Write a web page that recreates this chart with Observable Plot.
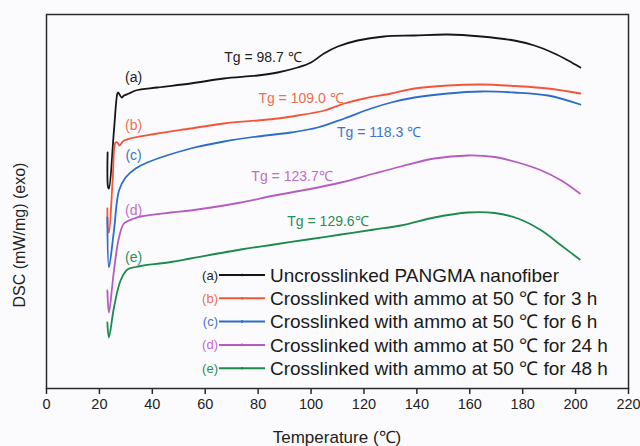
<!DOCTYPE html>
<html><head><meta charset="utf-8">
<script src="https://cdn.jsdelivr.net/npm/d3@7"></script>
<script src="https://cdn.jsdelivr.net/npm/@observablehq/plot@0.6"></script>
<style>
html,body{margin:0;padding:0;background:#fbfbfd;}
#chart{width:640px;height:446px;position:relative;}
</style></head><body><div id="chart"></div>
<script>
const xTicks = [0,20,40,60,80,100,120,140,160,180,200,220];
const seriesKeys = ["(a)","(b)","(c)","(d)","(e)"];
const seriesNames = [
  "Uncrosslinked PANGMA nanofiber",
  "Crosslinked with ammo at 50 \u2103 for 3 h",
  "Crosslinked with ammo at 50 \u2103 for 6 h",
  "Crosslinked with ammo at 50 \u2103 for 24 h",
  "Crosslinked with ammo at 50 \u2103 for 48 h"
];
const lineColors = ["#161616","#f4553a","#2d6cc9","#b55cc0","#1c8a4c"];
const textColors = ["#222222","#f26c50","#3a76cf","#c26dc9","#2b8c58"];
const tgTexts = ["Tg = 98.7 \u2103","Tg = 109.0 \u2103","Tg = 118.3 \u2103","Tg = 123.7\u2103","Tg = 129.6\u2103"];
// annotation anchor (temperature, DSC) for Tg labels and curve letters
const tgT = [81.8, 96.2, 125.7, 92.8, 106.4];
const tgV = [33.1, 29.0, 25.6, 21.2, 16.7];
const letterT = [32.9, 32.9, 32.9, 32.9, 32.9];
const letterV = [31.1, 26.3, 23.3, 17.8, 13.1];

// Curve (a)
const tA = [23.1,23.3,23.6,25.5,26.8,27.1,28.4,29.3,31.2,33.7,41.9,54.5,67.0,79.8,87.4,94.9,100.0,104.9,110.1,117.6,127.6,139.0,151.7,164.3,176.8,184.4,192.0,197.2,201.8];
const vA = [23.6,20.1,20.0,25.8,29.5,29.6,29.1,29.3,29.5,29.8,30.1,30.5,31.0,31.3,31.6,32.1,32.6,33.5,34.2,34.8,35.2,35.3,35.4,35.2,34.8,34.3,33.5,32.8,32.1];
// Curve (b)
const tB = [23.0,23.3,23.6,25.0,26.1,26.8,27.6,29.3,41.9,54.5,67.1,79.8,87.4,94.9,105.0,112.6,120.1,130.3,139.1,151.7,164.3,176.9,189.6,201.8];
const vB = [18.0,15.8,15.6,20.8,24.6,24.6,24.3,24.8,25.5,26.0,26.5,26.8,27.0,27.3,27.8,28.5,29.0,29.5,30.0,30.3,30.4,30.25,30.0,29.5];
// Curve (c)
const tC = [23.0,23.6,25.5,27.4,29.9,33.7,38.1,54.5,67.1,79.8,92.4,102.5,112.6,122.7,130.3,139.1,151.7,164.3,176.9,189.6,201.8];
const vC = [17.1,12.1,15.8,19.8,21.1,22.0,22.6,24.0,24.7,25.2,25.6,26.1,27.0,28.0,28.6,29.1,29.5,29.7,29.6,29.3,28.4];
// Curve (d)
const tD = [23.0,23.6,25.5,27.4,29.3,33.1,35.6,47.0,54.5,73.5,86.1,98.7,111.3,123.9,134.0,146.6,159.3,169.4,178.2,187.1,194.6,201.6];
const vD = [9.8,7.6,11.8,15.1,16.5,17.0,17.2,17.6,17.8,18.6,19.3,19.9,20.6,21.5,22.2,23.0,23.3,23.15,22.6,21.8,20.8,19.5];
// Curve (e)
const tE = [23.0,23.6,25.5,28.0,30.6,33.7,35.6,47.0,54.5,73.5,86.1,98.7,111.3,123.9,134.0,146.6,159.3,169.4,178.2,187.1,194.6,201.6];
const vE = [6.6,5.1,8.1,10.8,11.9,12.15,12.25,12.65,13.0,13.9,14.4,14.9,15.4,15.9,16.3,17.1,17.6,17.55,17.0,15.8,14.3,12.9];

const temps = [tA,tB,tC,tD,tE];
const vals = [vA,vB,vC,vD,vE];
const data = [];
temps.forEach((ts,i)=>ts.forEach((t,j)=>data.push({key:seriesKeys[i],T:t,v:vals[i][j]})));
const notes = tgTexts.map((s,i)=>({text:s,T:tgT[i],v:tgV[i],color:textColors[i]}));
const letters = seriesKeys.map((s,i)=>({text:s,T:letterT[i],v:letterV[i],color:textColors[i]}));

const font = "'Liberation Sans', Arial, Helvetica, sans-serif";
const chart = Plot.plot({
  width:640, height:446,
  marginTop:14, marginLeft:46, marginRight:12, marginBottom:58,
  style:{background:"transparent", fontFamily:font, color:"#222", overflow:"visible"},
  x:{domain:[0,220]},
  y:{domain:[0,37.4], axis:null},
  color:{domain:seriesKeys, range:lineColors},
  marks:[
    Plot.frame({stroke:"#2a2a2a", strokeWidth:1.5}),
    Plot.axisX({ticks:xTicks, tickSize:6, tickPadding:4, fontSize:14.5, label:null, stroke:"#2a2a2a", strokeWidth:1.5}),
    Plot.line(data,{x:"T", y:"v", z:"key", stroke:"key", curve:"catmull-rom", strokeWidth:1.8}),
    Plot.text(notes,{x:"T", y:"v", text:"text", fill:"color", fontSize:14}),
    Plot.text(letters,{x:"T", y:"v", text:"text", fill:"color", fontSize:14})
  ]
});
document.getElementById("chart").appendChild(chart);

const svg = d3.select(chart);
svg.append("text").attr("x",337).attr("y",443).attr("text-anchor","middle")
  .attr("font-size",17).attr("fill","#222").style("font-family",font).text("Temperature (\u2103)");
svg.append("text").attr("transform","translate(25,235) rotate(-90)").attr("text-anchor","middle")
  .attr("font-size",16).attr("fill","#222").style("font-family",font).text("DSC (mW/mg) (exo)");

// legend
const lg = svg.append("g").style("font-family",font);
seriesKeys.forEach((k,i)=>{
  const y = 275 + i*23.3;
  lg.append("text").attr("x",218).attr("y",y).attr("dy","0.35em").attr("text-anchor","end")
    .attr("font-size",13).attr("fill",textColors[i]).text(k);
  lg.append("line").attr("x1",219).attr("x2",265).attr("y1",y).attr("y2",y)
    .attr("stroke",lineColors[i]).attr("stroke-width",2);
  lg.append("circle").attr("cx",242).attr("cy",y).attr("r",1.3).attr("fill",lineColors[i]);
  lg.append("text").attr("x",270).attr("y",y).attr("dy","0.36em").attr("text-anchor","start")
    .attr("font-size",19).attr("fill","#1a1a1a").text(seriesNames[i]);
});
</script></body></html>
